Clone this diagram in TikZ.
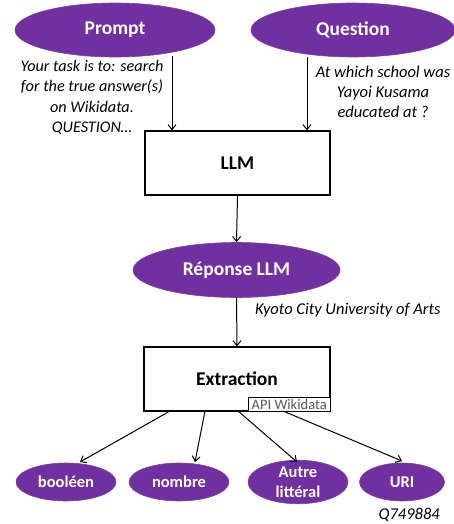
\documentclass[tikz,border=0pt]{standalone}
\usepackage{fontspec}
\setmainfont{Carlito}
\usetikzlibrary{shapes.geometric,arrows.meta}
\definecolor{officepurple}{HTML}{7030A0}
\tikzset{
  purpleell/.style={ellipse, fill=officepurple, draw=officepurple!70!gray, line width=0.6pt,
    text=white, font=\bfseries\fontsize{19.5}{20}\selectfont, inner sep=0pt, align=center},
  smallell/.style={purpleell, font=\bfseries\fontsize{16.5}{20}\selectfont, minimum height=38pt},
  procbox/.style={rectangle, draw=black, line width=1.2pt, fill=white,
    font=\bfseries\fontsize{19.5}{20}\selectfont, inner sep=0pt},
  note/.style={font=\itshape\fontsize{16.5}{20}\selectfont, align=center, inner sep=0pt},
  arr/.style={-{Straight Barb[length=5pt,width=8pt]}, line width=1pt},
  apibox/.style={rectangle, draw=black, line width=0.8pt, fill=white, text=black!65,
    font=\fontsize{14.5}{14}\selectfont, inner sep=0pt, minimum width=82pt, minimum height=14pt}
}
\begin{document}
\begin{tikzpicture}[x=1pt,y=-1pt]
\useasboundingbox (0,0) rectangle (454,524);
% top ellipses
\node[purpleell, minimum width=200pt, minimum height=54pt] (prompt) at (115,30) {Prompt};
\node[purpleell, minimum width=204pt, minimum height=54pt] (question) at (353,30) {Question};
% LLM box
\node[procbox, minimum width=185pt, minimum height=64pt] (llm) at (237.5,163) {LLM};
% notes
\node[note, font=\itshape\fontsize{16.2}{20.3}\selectfont] (pnote) at (92,97.5) {Your task is to: search\\for the true answer(s)\\on Wikidata.\\QUESTION…};
\node[note] (qnote) at (383,92) {At which school was\\Yayoi Kusama\\educated at ?};
% Réponse
\node[purpleell, minimum width=207pt, minimum height=55pt] (rep) at (236.5,270) {Réponse LLM};
\node[note, anchor=west] (kyoto) at (255,310) {Kyoto City University of Arts};
% Extraction
\node[procbox, minimum width=186pt, minimum height=64pt] (ext) at (237,379) {Extraction};
\node[apibox, anchor=south east] (api) at (ext.south east) {API Wikidata};
% bottom ellipses
\node[smallell, minimum width=100pt] (bool) at (66,482) {booléen};
\node[smallell, minimum width=100pt] (nombre) at (179,482) {nombre};
\node[smallell, minimum width=100pt] (autre) at (298,482) {Autre\\littéral};
\node[smallell, minimum width=85pt] (uri) at (402,482) {URI};
\node[note, anchor=east] (qid) at (440,515) {Q749884};
% coordinates for connectors
\coordinate (pA) at (172,56);
\coordinate (qA) at (307,57);
% connectors
\draw[arr] (pA) -- (pA |- llm.north);
\draw[arr] (qA) -- (qA |- llm.north);
\draw[arr] (llm.south) -- (rep.north);
\draw[arr] (rep.south) -- (ext.north);
\coordinate (e1) at (170,411);
\coordinate (e2) at (205,411);
\coordinate (e3) at (238,411);
\coordinate (e4) at (283,411);
\coordinate (b1) at (80,462);
\coordinate (b2) at (195,462);
\coordinate (b3) at (297,462);
\coordinate (b4) at (402,461);
\draw[arr] (e1) -- (b1);
\draw[arr] (e2) -- (b2);
\draw[arr] (e3) -- (b3);
\draw[arr] (e4) -- (b4);
\end{tikzpicture}
\end{document}
